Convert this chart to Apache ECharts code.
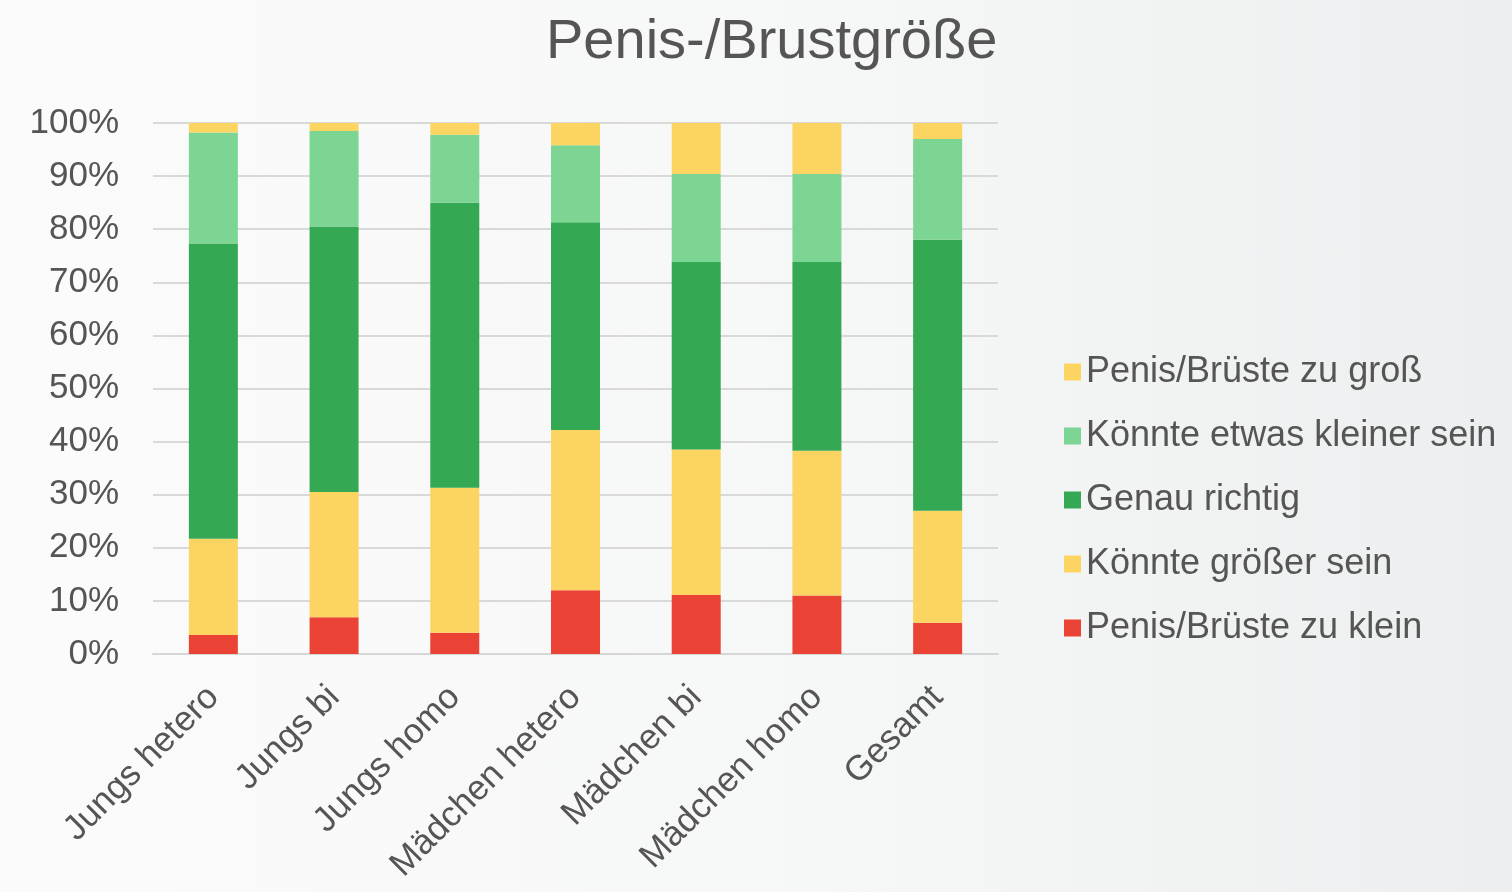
<!DOCTYPE html>
<html>
<head>
<meta charset="utf-8">
<script src="https://cdn.jsdelivr.net/npm/echarts@6/dist/echarts.min.js"></script>
<style>
  html, body {
    margin: 0;
    padding: 0;
    width: 1512px;
    height: 892px;
    overflow: hidden;
    background: linear-gradient(90deg, #fbfbfb 0%, #f6f7f7 55%, #eceeef 100%);
  }
  #chart {
    width: 1512px;
    height: 892px;
  }
</style>
</head>
<body>
<div id="chart"></div>
<script>
const categories = ['Jungs hetero', 'Jungs bi', 'Jungs homo', 'Mädchen hetero', 'Mädchen bi', 'Mädchen homo', 'Gesamt']

// Anteile in %, Stapel von unten nach oben
const zuKlein = [3.6, 6.9, 4.0, 12.0, 11.1, 11.0, 5.9]
const koennteGroesser = [18.1, 23.6, 27.3, 30.2, 27.4, 27.3, 21.1]
const genauRichtig = [55.6, 50.0, 53.7, 39.1, 35.3, 35.5, 51.0]
const etwasKleiner = [20.9, 18.0, 12.8, 14.5, 16.6, 16.6, 19.0]
const zuGross = [1.8, 1.5, 2.2, 4.2, 9.6, 9.6, 3.0]

const seriesNames = [
  'Penis/Brüste zu klein',
  'Könnte größer sein',
  'Genau richtig',
  'Könnte etwas kleiner sein',
  'Penis/Brüste zu groß'
]
const seriesData = [zuKlein, koennteGroesser, genauRichtig, etwasKleiner, zuGross]
const colors = ['#ea4335', '#fbd462', '#34a853', '#7cd592', '#fbd462']

const textColor = '#555'
const font = 'Liberation Sans, Arial, sans-serif'

const chart = echarts.init(document.getElementById('chart'))

const series = seriesNames.map((name, i) => ({
  name,
  type: 'bar',
  stack: 'total',
  barWidth: 49,
  data: seriesData[i],
  itemStyle: { color: colors[i] }
}))

chart.setOption({
  animation: false,
  textStyle: { fontFamily: font },
  title: {
    text: 'Penis-/Brustgröße',
    left: 541,
    top: 10,
    textStyle: {
      fontSize: 56,
      fontWeight: 'normal',
      color: textColor,
      fontFamily: font
    }
  },
  legend: {
    orient: 'vertical',
    left: 1059,
    top: 349,
    itemWidth: 17,
    itemHeight: 17,
    itemGap: 28,
    icon: 'rect',
    data: seriesNames.slice().reverse(),
    textStyle: {
      fontSize: 36,
      color: textColor,
      fontFamily: font,
      padding: [0, 0, 0, 0]
    }
  },
  grid: {
    left: 153,
    right: 514,
    top: 123,
    bottom: 238
  },
  xAxis: {
    type: 'category',
    data: categories,
    axisLine: { lineStyle: { color: '#d6d6d6', width: 2 } },
    axisTick: { show: false },
    axisLabel: {
      rotate: 45,
      margin: 38,
      fontSize: 35,
      color: textColor,
      fontFamily: font
    }
  },
  yAxis: {
    type: 'value',
    min: 0,
    max: 100,
    interval: 10,
    axisLine: { show: false },
    axisTick: { show: false },
    axisLabel: {
      formatter: '{value}%',
      fontSize: 35,
      margin: 34,
      color: textColor,
      fontFamily: font
    },
    splitLine: { lineStyle: { color: '#d9d9d9', width: 2 } }
  },
  series
})
</script>
</body>
</html>
